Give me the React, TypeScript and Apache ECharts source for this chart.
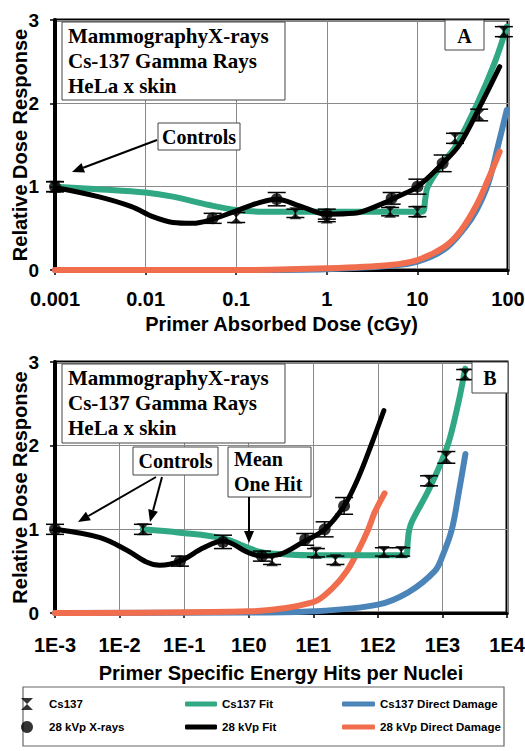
import React, { useEffect, useRef } from 'react';
import * as echarts from 'echarts';

// ---------- tick labels ----------
const doseTicksA = ['0.001', '0.01', '0.1', '1', '10', '100'];
const hitTicksB = ['1E-3', '1E-2', '1E-1', '1E0', '1E1', '1E2', '1E3', '1E4'];
const yTicks = ['0', '1', '2', '3'];

// ---------- Panel A (x = primer absorbed dose, cGy) ----------
// [x, y, error]
const csPointsA = [
  [0.001, 1.0, 0.06], [0.1, 0.63, 0.06], [0.45, 0.68, 0.05], [1, 0.63, 0.05],
  [5, 0.7, 0.05], [10, 0.7, 0.06], [26, 1.58, 0.06], [48, 1.86, 0.07], [90, 2.86, 0.06],
];
const kvpPointsA = [
  [0.001, 1.0, 0.06], [0.055, 0.62, 0.06], [0.28, 0.85, 0.08], [1.0, 0.67, 0.06],
  [5.2, 0.86, 0.07], [10, 1.0, 0.09], [19, 1.28, 0.1],
];
const csFitA = [
  [0.001, 1.0], [0.003, 0.97], [0.01, 0.93], [0.02, 0.88], [0.05, 0.78], [0.1, 0.72],
  [0.2, 0.7], [1, 0.7], [5, 0.7], [11.3, 0.7], [12.2, 0.85], [13, 1.0], [19, 1.28],
  [27, 1.5], [46, 2.0], [72, 2.5], [97, 2.92],
];
const kvpFitA = [
  [0.001, 0.99], [0.003, 0.88], [0.007, 0.76], [0.012, 0.64], [0.02, 0.57], [0.033, 0.56],
  [0.055, 0.61], [0.1, 0.71], [0.17, 0.8], [0.28, 0.85], [0.5, 0.77], [1, 0.67], [2, 0.68],
  [4, 0.79], [6, 0.88], [10, 1.0], [19, 1.28], [29, 1.5], [51, 2.0], [81, 2.44],
];
const csDirectA = [
  [0.001, 0], [0.1, 0.0], [1, 0.01], [5, 0.05], [10, 0.1], [20, 0.25], [33, 0.5],
  [45, 0.72], [61, 1.05], [78, 1.5], [97, 1.92],
];
const kvpDirectA = [
  [0.001, 0], [0.1, 0.0], [1, 0.02], [5, 0.06], [10, 0.12], [20, 0.28], [30, 0.47],
  [45, 0.78], [60, 1.08], [81, 1.42],
];

// ---------- Panel B (x = primer specific energy hits per nuclei) ----------
const csPointsB = [
  [0.023, 1.0, 0.06], [2.3, 0.63, 0.05], [11, 0.72, 0.05], [22, 0.63, 0.05],
  [124, 0.73, 0.05], [230, 0.73, 0.05], [620, 1.58, 0.06], [1150, 1.86, 0.07], [2250, 2.85, 0.06],
];
const kvpPointsB = [
  [0.001, 1.0, 0.06], [0.086, 0.62, 0.06], [0.4, 0.85, 0.08], [1.6, 0.68, 0.06],
  [7.5, 0.88, 0.07], [15, 1.0, 0.09], [30, 1.28, 0.1],
];
const csFitB = [
  [0.023, 1.0], [0.086, 0.96], [0.4, 0.89], [1.5, 0.73], [4, 0.7], [10, 0.69],
  [100, 0.69], [275, 0.69], [290, 0.85], [305, 0.99], [340, 1.1], [640, 1.5], [1200, 2.0],
  [1750, 2.5], [2250, 2.92],
];
const kvpFitB = [
  [0.001, 1.0], [0.005, 0.9], [0.013, 0.75], [0.026, 0.61], [0.042, 0.57], [0.086, 0.62],
  [0.2, 0.78], [0.4, 0.86], [1.0, 0.72], [1.6, 0.68], [3, 0.7], [7, 0.85], [15, 1.0],
  [30, 1.28], [50, 1.62], [80, 2.02], [124, 2.42],
];
const csDirectB = [
  [0.001, 0], [1, 0.005], [10, 0.02], [100, 0.1], [300, 0.25], [760, 0.5],
  [1000, 0.68], [1400, 1.0], [1800, 1.45], [2270, 1.9],
];
const kvpDirectB = [
  [0.001, 0], [1, 0.02], [10, 0.13], [20, 0.3], [33, 0.5], [50, 0.75], [71, 1.0],
  [89, 1.2], [127, 1.43],
];

// ---------- styles ----------
const GREEN = '#2fa883';
const BLUE = '#4a84b8';
const ORANGE = '#f06e4e';
const BLACK = '#000000';
const SANS = '"Liberation Sans", Arial, Helvetica, sans-serif';
const SERIF = '"Liberation Serif", "Times New Roman", Times, serif';
const HOURGLASS = 'path://M0,0H10L5,5L10,10H0L5,5Z';

function fitSeries(name: string, data: number[][], color: string, width: number, gi: number) {
  return {
    type: 'line', name, data, xAxisIndex: gi, yAxisIndex: gi,
    symbol: 'none', smooth: 0.35,
    lineStyle: { color, width, cap: 'round', join: 'round' },
    itemStyle: { color },
    z: 3,
  };
}

function errSeries(name: string, data: number[][], gi: number) {
  return {
    type: 'custom', name, data, xAxisIndex: gi, yAxisIndex: gi, silent: true,
    encode: { x: 0, y: 1 }, z: 4, clip: false,
    renderItem: (_p: any, api: any) => {
      const x = api.value(0), y = api.value(1), e = api.value(2);
      const t = api.coord([x, y + e]);
      const b = api.coord([x, y - e]);
      const hw = 9;
      const st = { stroke: '#000', lineWidth: 1.5 };
      return {
        type: 'group',
        children: [
          { type: 'line', shape: { x1: t[0], y1: t[1], x2: b[0], y2: b[1] }, style: st },
          { type: 'line', shape: { x1: t[0] - hw, y1: t[1], x2: t[0] + hw, y2: t[1] }, style: st },
          { type: 'line', shape: { x1: b[0] - hw, y1: b[1], x2: b[0] + hw, y2: b[1] }, style: st },
        ],
      };
    },
  };
}

function scatterSeries(name: string, data: number[][], symbol: string, size: number, gi: number) {
  return {
    type: 'scatter', name, xAxisIndex: gi, yAxisIndex: gi,
    data: data.map((d) => [d[0], d[1]]),
    symbol, symbolSize: size, itemStyle: { color: '#000' }, z: 5,
  };
}

function xAxis(gi: number, max: number, ticks: string[], title: string, margin: number, gap: number) {
  return {
    type: 'log', logBase: 10, gridIndex: gi, min: 0.001, max,
    name: title, nameLocation: 'middle', nameGap: gap, nameMoveOverlap: false,
    nameTextStyle: { fontFamily: SANS, fontWeight: 'bold', fontSize: 20, color: '#000' },
    axisLine: { show: true, lineStyle: { color: '#000', width: 3 } },
    axisTick: { show: true, length: 5, lineStyle: { color: '#000', width: 1.5 } },
    axisLabel: {
      fontFamily: SANS, fontWeight: 'bold', fontSize: 20, color: '#000', margin,
      formatter: (v: number) => ticks[Math.round(Math.log10(v)) + 3],
    },
    splitLine: { show: true, lineStyle: { color: '#8a8a8a', width: 1 } },
    minorTick: { show: false }, minorSplitLine: { show: false },
  };
}

function yAxis(gi: number) {
  return {
    type: 'value', gridIndex: gi, min: 0, max: 3, interval: 1,
    name: 'Relative Dose Response', nameLocation: 'middle', nameGap: 25, nameMoveOverlap: false,
    nameTextStyle: { fontFamily: SANS, fontWeight: 'bold', fontSize: 20, color: '#000' },
    axisLine: { show: true, lineStyle: { color: '#000', width: 4 } },
    axisTick: { show: true, length: 5, lineStyle: { color: '#000', width: 1.5 } },
    axisLabel: {
      fontFamily: SANS, fontWeight: 'bold', fontSize: 19, color: '#000', margin: 16,
      formatter: (v: number) => yTicks[Math.round(v)],
    },
    splitLine: { show: true, lineStyle: { color: '#8a8a8a', width: 1 } },
  };
}

// ---------- annotation helpers ----------
function box(x: number, y: number, w: number, h: number) {
  return {
    type: 'rect', z: 20, shape: { x, y, width: w, height: h },
    style: { fill: '#fff', stroke: '#444', lineWidth: 1 },
  };
}
function txt(text: string, x: number, y: number, align = 'left', size = 21) {
  return {
    type: 'text', z: 21, x, y,
    style: { text, fill: '#000', font: `bold ${size}px ${SERIF}`, align, verticalAlign: 'middle' },
  };
}
function arrow(x1: number, y1: number, x2: number, y2: number) {
  const a = Math.atan2(y2 - y1, x2 - x1);
  const L = 12, W = 5;
  const bx = x2 - L * Math.cos(a), by = y2 - L * Math.sin(a);
  return [
    { type: 'line', z: 22, shape: { x1, y1, x2: bx, y2: by }, style: { stroke: '#000', lineWidth: 2 } },
    {
      type: 'polygon', z: 22,
      shape: { points: [[x2, y2], [bx + W * Math.sin(a), by - W * Math.cos(a)], [bx - W * Math.sin(a), by + W * Math.cos(a)]] },
      style: { fill: '#000' },
    },
  ];
}

const legendText = { fontFamily: SANS, fontWeight: 'bold', fontSize: 11.5, color: '#000', lineHeight: 14 };

const option: any = {
  animation: false,
  backgroundColor: '#fff',
  grid: [
    { left: 55, top: 20, width: 453, height: 250, show: true, borderColor: '#000', borderWidth: 3, backgroundColor: 'transparent', containLabel: false, outerBoundsMode: 'none' },
    { left: 55, top: 362, width: 452, height: 251, show: true, borderColor: '#000', borderWidth: 3, backgroundColor: 'transparent', containLabel: false, outerBoundsMode: 'none' },
  ],
  xAxis: [
    xAxis(0, 100, doseTicksA, 'Primer Absorbed Dose (cGy)', 19, 44),
    xAxis(1, 10000, hitTicksB, 'Primer Specific Energy Hits per Nuclei', 22, 50),
  ],
  yAxis: [yAxis(0), yAxis(1)],
  legend: [
    {
      orient: 'vertical', left: 21, top: 697, padding: 0, itemGap: 9, itemWidth: 34, itemHeight: 12,
      data: ['Cs137', '28 kVp X-rays'], textStyle: legendText,
    },
    {
      orient: 'vertical', left: 185, top: 697, padding: 0, itemGap: 9, itemWidth: 32, itemHeight: 5,
      icon: 'roundRect', data: ['Cs137 Fit', '28 kVp Fit'], textStyle: legendText,
    },
    {
      orient: 'vertical', left: 342, top: 697, padding: 0, itemGap: 9, itemWidth: 33, itemHeight: 5,
      icon: 'roundRect', data: ['Cs137 Direct Damage', '28 kVp Direct Damage'], textStyle: legendText,
    },
  ],
  series: [
    // Panel A
    fitSeries('Cs137 Direct Damage', csDirectA, BLUE, 6, 0),
    fitSeries('28 kVp Direct Damage', kvpDirectA, ORANGE, 6, 0),
    fitSeries('Cs137 Fit', csFitA, GREEN, 6, 0),
    fitSeries('28 kVp Fit', kvpFitA, BLACK, 5, 0),
    errSeries('Cs137 error', csPointsA, 0),
    errSeries('28 kVp error', kvpPointsA, 0),
    scatterSeries('Cs137', csPointsA, HOURGLASS, 12, 0),
    scatterSeries('28 kVp X-rays', kvpPointsA, 'circle', 12, 0),
    // Panel B
    fitSeries('Cs137 Direct Damage', csDirectB, BLUE, 6, 1),
    fitSeries('28 kVp Direct Damage', kvpDirectB, ORANGE, 6, 1),
    fitSeries('Cs137 Fit', csFitB, GREEN, 6, 1),
    fitSeries('28 kVp Fit', kvpFitB, BLACK, 5, 1),
    errSeries('Cs137 error', csPointsB, 1),
    errSeries('28 kVp error', kvpPointsB, 1),
    scatterSeries('Cs137', csPointsB, HOURGLASS, 12, 1),
    scatterSeries('28 kVp X-rays', kvpPointsB, 'circle', 12, 1),
  ],
  graphic: [
    // Panel A annotations
    box(62, 22, 223, 78),
    txt('MammographyX-rays', 68, 36),
    txt('Cs-137 Gamma Rays', 68, 61),
    txt('HeLa x skin', 68, 86),
    box(445, 20, 39, 30),
    txt('A', 464.5, 36, 'center', 20),
    box(158, 123, 82, 27),
    txt('Controls', 199, 137, 'center', 20),
    ...arrow(157, 140, 72, 172),
    // Panel B annotations
    box(62, 364, 223, 79),
    txt('MammographyX-rays', 68, 378),
    txt('Cs-137 Gamma Rays', 68, 403),
    txt('HeLa x skin', 68, 428),
    box(472, 362, 36, 31),
    txt('B', 490, 378, 'center', 20),
    box(133, 447, 85, 28),
    txt('Controls', 175.5, 461, 'center', 20),
    ...arrow(156, 477, 78, 522),
    ...arrow(162, 477, 150, 522),
    box(228, 447, 83, 50),
    txt('Mean', 234, 459, 'left', 20),
    txt('One Hit', 234, 484, 'left', 20),
    ...arrow(249, 497, 249, 543),
    // legend frame
    {
      type: 'rect', z: -1, shape: { x: 23, y: 687, width: 481, height: 59 },
      style: { fill: '#fff', stroke: '#666', lineWidth: 1.2 },
    },
  ],
};

export default function App() {
  const ref = useRef<HTMLDivElement>(null);
  useEffect(() => {
    const chart = echarts.init(ref.current as HTMLDivElement, null, { renderer: 'svg' });
    chart.setOption(option);
    return () => chart.dispose();
  }, []);
  return (
    <div
      ref={ref}
      style={{ position: 'absolute', left: 0, top: 0, width: 525, height: 751, background: '#fff' }}
    />
  );
}
